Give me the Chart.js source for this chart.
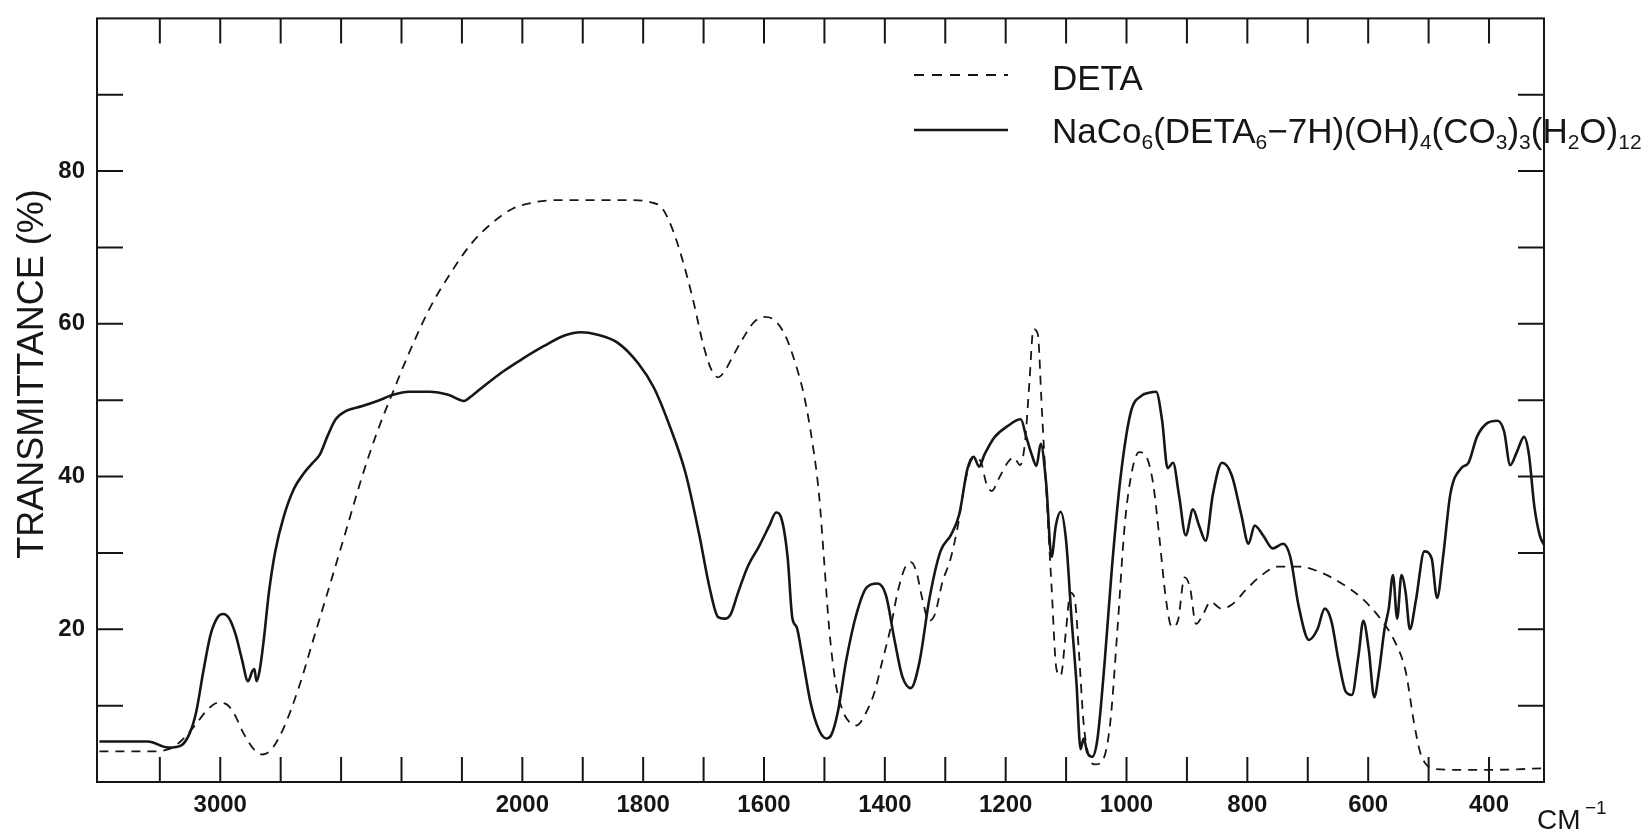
<!DOCTYPE html>
<html>
<head>
<meta charset="utf-8">
<script src="https://cdn.jsdelivr.net/npm/chart.js@4.4.1/dist/chart.umd.min.js"></script>
<style>
  html, body { margin: 0; padding: 0; background: #fff; }
  #wrap { width: 1642px; height: 834px; }
</style>
</head>
<body>
<div id="wrap"><canvas id="irChart" width="1642" height="834"></canvas></div>
<script>
// IR spectra: wavenumber (cm-1) and transmittance (%)
const detaWavenumber = [
    3400, 3239, 3170, 3129, 3084, 3039, 3005, 2980, 2956, 2922,
    2887, 2860, 2832, 2791, 2739, 2687, 2635, 2583, 2532, 2480,
    2428, 2376, 2307, 2238, 2169, 2100, 2031, 1981, 1946, 1894,
    1825, 1787, 1769, 1752, 1735, 1717, 1700, 1686, 1676, 1665,
    1652, 1634, 1617, 1600, 1583, 1565, 1548, 1534, 1520, 1509,
    1501, 1492, 1482, 1470, 1457, 1447, 1433, 1417, 1404, 1391,
    1379, 1367, 1357, 1348, 1338, 1327, 1317, 1305, 1291, 1279,
    1267, 1253, 1242, 1232, 1223, 1211, 1197, 1187, 1176, 1168,
    1161, 1154, 1147, 1140, 1133, 1124, 1116, 1109, 1100, 1093,
    1086, 1079, 1071, 1062, 1052, 1039, 1027, 1015, 1003, 991,
    979, 967, 956, 946, 935, 925, 915, 904, 895, 885,
    873, 861, 843, 826, 802, 776, 750, 715, 680, 646,
    611, 580, 556, 538, 524, 514, 504, 490, 455, 386,
    309
];
const detaTransmittance = [
    4.0, 4.0, 4.3, 5.4, 7.4, 9.6, 10.4, 10.2, 9.1, 6.3,
    4.2, 3.6, 4.2, 7.0, 12.5, 19.3, 26.1, 33.0, 39.8, 45.9,
    51.1, 56.1, 62.0, 66.6, 70.5, 73.2, 75.1, 75.9, 76.2, 76.2,
    76.2, 75.9, 75.2, 72.5, 68.4, 63.0, 57.1, 53.8, 53.0, 53.8,
    55.7, 58.2, 60.2, 60.9, 60.5, 58.5, 54.8, 50.7, 44.5, 37.7,
    29.5, 20.0, 13.2, 9.4, 7.7, 7.4, 8.8, 11.8, 15.9, 20.0,
    24.8, 28.0, 28.8, 27.6, 24.0, 21.1, 22.0, 26.1, 29.3, 33.6,
    39.4, 42.4, 42.1, 39.1, 38.1, 39.8, 41.8, 42.5, 41.5, 44.5,
    52.0, 59.3, 58.7, 48.6, 38.4, 25.5, 14.8, 13.9, 20.0, 24.8,
    24.1, 17.3, 7.7, 3.3, 2.3, 2.9, 7.7, 20.0, 33.6, 40.7,
    43.2, 42.6, 39.1, 32.3, 24.1, 20.3, 21.1, 26.8, 25.5, 20.7,
    22.0, 23.6, 22.7, 23.2, 25.2, 27.1, 28.2, 28.2, 27.5, 26.1,
    24.1, 21.4, 18.4, 14.5, 7.7, 3.9, 2.3, 1.7, 1.6, 1.6,
    1.8
];

const complexWavenumber = [
    3400, 3240, 3170, 3129, 3101, 3080, 3056, 3032, 3008, 2991,
    2970, 2949, 2929, 2908, 2894, 2887, 2880, 2870, 2856, 2839,
    2818, 2791, 2756, 2722, 2694, 2670, 2646, 2618, 2583, 2532,
    2480, 2428, 2376, 2307, 2245, 2193, 2176, 2135, 2066, 1998,
    1964, 1929, 1903, 1877, 1842, 1808, 1782, 1756, 1730, 1707,
    1690, 1676, 1665, 1655, 1643, 1627, 1608, 1591, 1580, 1572,
    1561, 1553, 1546, 1537, 1523, 1509, 1497, 1489, 1478, 1464,
    1447, 1430, 1412, 1398, 1384, 1371, 1357, 1343, 1326, 1308,
    1291, 1277, 1263, 1253, 1244, 1235, 1218, 1197, 1175, 1166,
    1157, 1149, 1142, 1133, 1124, 1117, 1109, 1100, 1091, 1083,
    1076, 1071, 1065, 1057, 1048, 1036, 1024, 1010, 993, 975,
    961, 951, 941, 932, 923, 913, 902, 890, 880, 869,
    857, 842, 826, 810, 798, 788, 774, 758, 741, 729,
    715, 698, 684, 672, 661, 649, 637, 627, 616, 608,
    599, 590, 582, 573, 566, 559, 552, 545, 538, 531,
    521, 507, 495, 486, 476, 464, 446, 434, 420, 403,
    386, 375, 365, 354, 342, 334, 325, 316, 308
];
const complexTransmittance = [
    5.3, 5.3, 4.5, 4.8, 6.4, 9.1, 14.5, 19.3, 21.6, 22.0,
    21.4, 19.3, 16.2, 13.2, 14.5, 14.8, 13.2, 14.5, 18.6, 24.8,
    30.2, 34.6, 38.4, 40.5, 41.8, 42.9, 45.2, 47.5, 48.6, 49.2,
    49.9, 50.7, 51.1, 51.1, 50.7, 49.9, 50.3, 51.6, 53.7, 55.5,
    57.1, 58.5, 58.9, 58.6, 57.5, 54.8, 51.6, 46.6, 40.5, 32.3,
    25.4, 21.6, 21.4, 22.0, 24.8, 28.2, 30.9, 33.6, 35.3, 34.7,
    29.5, 21.4, 20.3, 16.6, 10.4, 6.8, 5.7, 6.1, 9.1, 15.9,
    22.0, 25.5, 26.0, 24.4, 18.6, 13.8, 12.3, 15.6, 24.1, 30.2,
    32.3, 35.0, 41.1, 42.6, 41.3, 42.9, 45.2, 46.6, 47.5, 45.2,
    42.9, 41.4, 44.3, 39.1, 29.5, 33.6, 35.4, 31.6, 21.4, 13.2,
    4.3, 5.7, 3.9, 3.3, 5.7, 15.9, 28.2, 39.8, 48.4, 50.6,
    51.0, 51.1, 47.3, 41.1, 41.8, 37.5, 32.3, 35.7, 33.6, 31.6,
    37.7, 41.8, 40.2, 35.0, 31.2, 33.6, 32.3, 30.6, 31.2, 29.5,
    23.0, 18.6, 20.0, 22.7, 21.1, 15.9, 11.8, 11.4, 16.6, 21.1,
    17.3, 11.1, 14.5, 20.0, 22.7, 27.1, 21.4, 27.1, 24.8, 20.0,
    23.8, 30.2, 29.3, 24.1, 29.5, 37.7, 41.1, 41.8, 45.2, 47.0,
    47.3, 45.9, 41.5, 43.2, 45.2, 42.9, 36.1, 32.3, 30.9
];

// tick marks on the frame and which of them carry a number
const xTickMarks = [3200, 3000, 2800, 2600, 2400, 2200, 2000, 1900, 1800, 1700, 1600, 1500,
    1400, 1300, 1200, 1100, 1000, 900, 800, 700, 600, 500, 400];
const xTickLabels = [3000, 2000, 1800, 1600, 1400, 1200, 1000, 800, 600, 400];
const yTickMarks = [10, 20, 30, 40, 50, 60, 70, 80, 90];
const yTickLabels = [20, 40, 60, 80];

const seriesNames = ['DETA', 'NaCo6(DETA6-7H)(OH)4(CO3)3(H2O)12'];
// formula as [text, isSubscript]
const formulaParts = [['NaCo', 0], ['6', 1], ['(DETA', 0], ['6', 1], ['\u22127H)(OH)', 0], ['4', 1],
    ['(CO', 0], ['3', 1], [')', 0], ['3', 1], ['(H', 0], ['2', 1], ['O)', 0], ['12', 1]];

const INK = '#161616';
const FONT = '"Liberation Sans", Arial, sans-serif';

// chart paper changes scale at 2000 cm-1: above it, half as many mm per cm-1
const toAxis = (nu) => nu >= 2000 ? -(nu - 2000) / 2 : 2000 - nu;
const fromAxis = (u) => u < 0 ? 2000 - 2 * u : 2000 - u;

const toPoints = (nus, ts) => nus.map((nu, i) => ({ x: toAxis(nu), y: ts[i] }));

const framePlugin = {
    id: 'spectrumFrame',
    afterDatasetsDraw(chart) {
        const { ctx, chartArea: a, scales: { x, y } } = chart;
        ctx.save();
        ctx.strokeStyle = INK;
        ctx.fillStyle = INK;
        ctx.setLineDash([]);
        ctx.lineWidth = 2;
        ctx.strokeRect(a.left, a.top, a.right - a.left, a.bottom - a.top);

        // inward tick marks on all four sides
        ctx.beginPath();
        xTickMarks.forEach(n => {
            const px = x.getPixelForValue(toAxis(n));
            ctx.moveTo(px, a.bottom); ctx.lineTo(px, a.bottom - 25);
            ctx.moveTo(px, a.top); ctx.lineTo(px, a.top + 25);
        });
        yTickMarks.forEach(v => {
            const py = y.getPixelForValue(v);
            ctx.moveTo(a.left, py); ctx.lineTo(a.left + 26, py);
            ctx.moveTo(a.right, py); ctx.lineTo(a.right - 26, py);
        });
        ctx.stroke();

        // y axis title
        ctx.save();
        ctx.translate(33, 374);
        ctx.rotate(-Math.PI / 2);
        ctx.font = '36px ' + FONT;
        ctx.textAlign = 'center';
        ctx.textBaseline = 'middle';
        ctx.fillText('TRANSMITTANCE (%)', 0, 0);
        ctx.restore();

        // legend
        ctx.lineWidth = 1.8;
        ctx.setLineDash([10, 8]);
        ctx.beginPath(); ctx.moveTo(914, 75); ctx.lineTo(1008, 75); ctx.stroke();
        ctx.setLineDash([]);
        ctx.lineWidth = 2.6;
        ctx.beginPath(); ctx.moveTo(914, 130); ctx.lineTo(1008, 130); ctx.stroke();

        ctx.textAlign = 'left';
        ctx.textBaseline = 'alphabetic';
        ctx.font = '35px ' + FONT;
        ctx.fillText(seriesNames[0], 1052, 90);
        let cx = 1052;
        formulaParts.forEach(([txt, sub]) => {
            ctx.font = (sub ? '21px ' : '35px ') + FONT;
            ctx.fillText(txt, cx, sub ? 149 : 143);
            cx += ctx.measureText(txt).width;
        });

        // unit at the end of the x axis
        ctx.font = '28px ' + FONT;
        ctx.fillText('CM', 1537, 829);
        ctx.font = '19px ' + FONT;
        ctx.fillText('\u22121', 1585, 814);
        ctx.restore();
    }
};

new Chart(document.getElementById('irChart'), {
    type: 'line',
    data: {
        datasets: [
            {
                label: seriesNames[0],
                data: toPoints(detaWavenumber, detaTransmittance),
                borderColor: INK,
                borderWidth: 1.8,
                borderDash: [9, 7],
                pointRadius: 0,
                cubicInterpolationMode: 'monotone',
                fill: false
            },
            {
                label: seriesNames[1],
                data: toPoints(complexWavenumber, complexTransmittance),
                borderColor: INK,
                borderWidth: 2.6,
                pointRadius: 0,
                cubicInterpolationMode: 'monotone',
                fill: false
            }
        ]
    },
    options: {
        responsive: false,
        animation: false,
        devicePixelRatio: 1,
        layout: { padding: { left: 0, top: 13, right: 98, bottom: 0 } },
        plugins: {
            legend: { display: false },
            tooltip: { enabled: false }
        },
        scales: {
            x: {
                type: 'linear',
                position: 'bottom',
                min: toAxis(3408),
                max: toAxis(309),
                grid: { display: false },
                border: { display: false },
                afterBuildTicks: (scale) => {
                    scale.ticks = xTickMarks.map(n => ({ value: toAxis(n) }));
                },
                afterFit: (scale) => { scale.height = 52; },
                ticks: {
                    autoSkip: false,
                    maxRotation: 0,
                    minRotation: 0,
                    padding: 1,
                    color: INK,
                    font: { family: FONT, size: 24, weight: 'bold' },
                    callback: (value) => {
                        const nu = Math.round(fromAxis(value));
                        return xTickLabels.includes(nu) ? String(nu) : '';
                    }
                }
            },
            y: {
                min: 0,
                max: 100,
                grid: { display: false },
                border: { display: false },
                afterFit: (scale) => { scale.width = 97; },
                ticks: {
                    stepSize: 10,
                    padding: 4,
                    color: INK,
                    font: { family: FONT, size: 24, weight: 'bold' },
                    callback: (value) => yTickLabels.includes(value) ? String(value) : ''
                }
            }
        }
    },
    plugins: [framePlugin]
});
</script>
</body>
</html>
